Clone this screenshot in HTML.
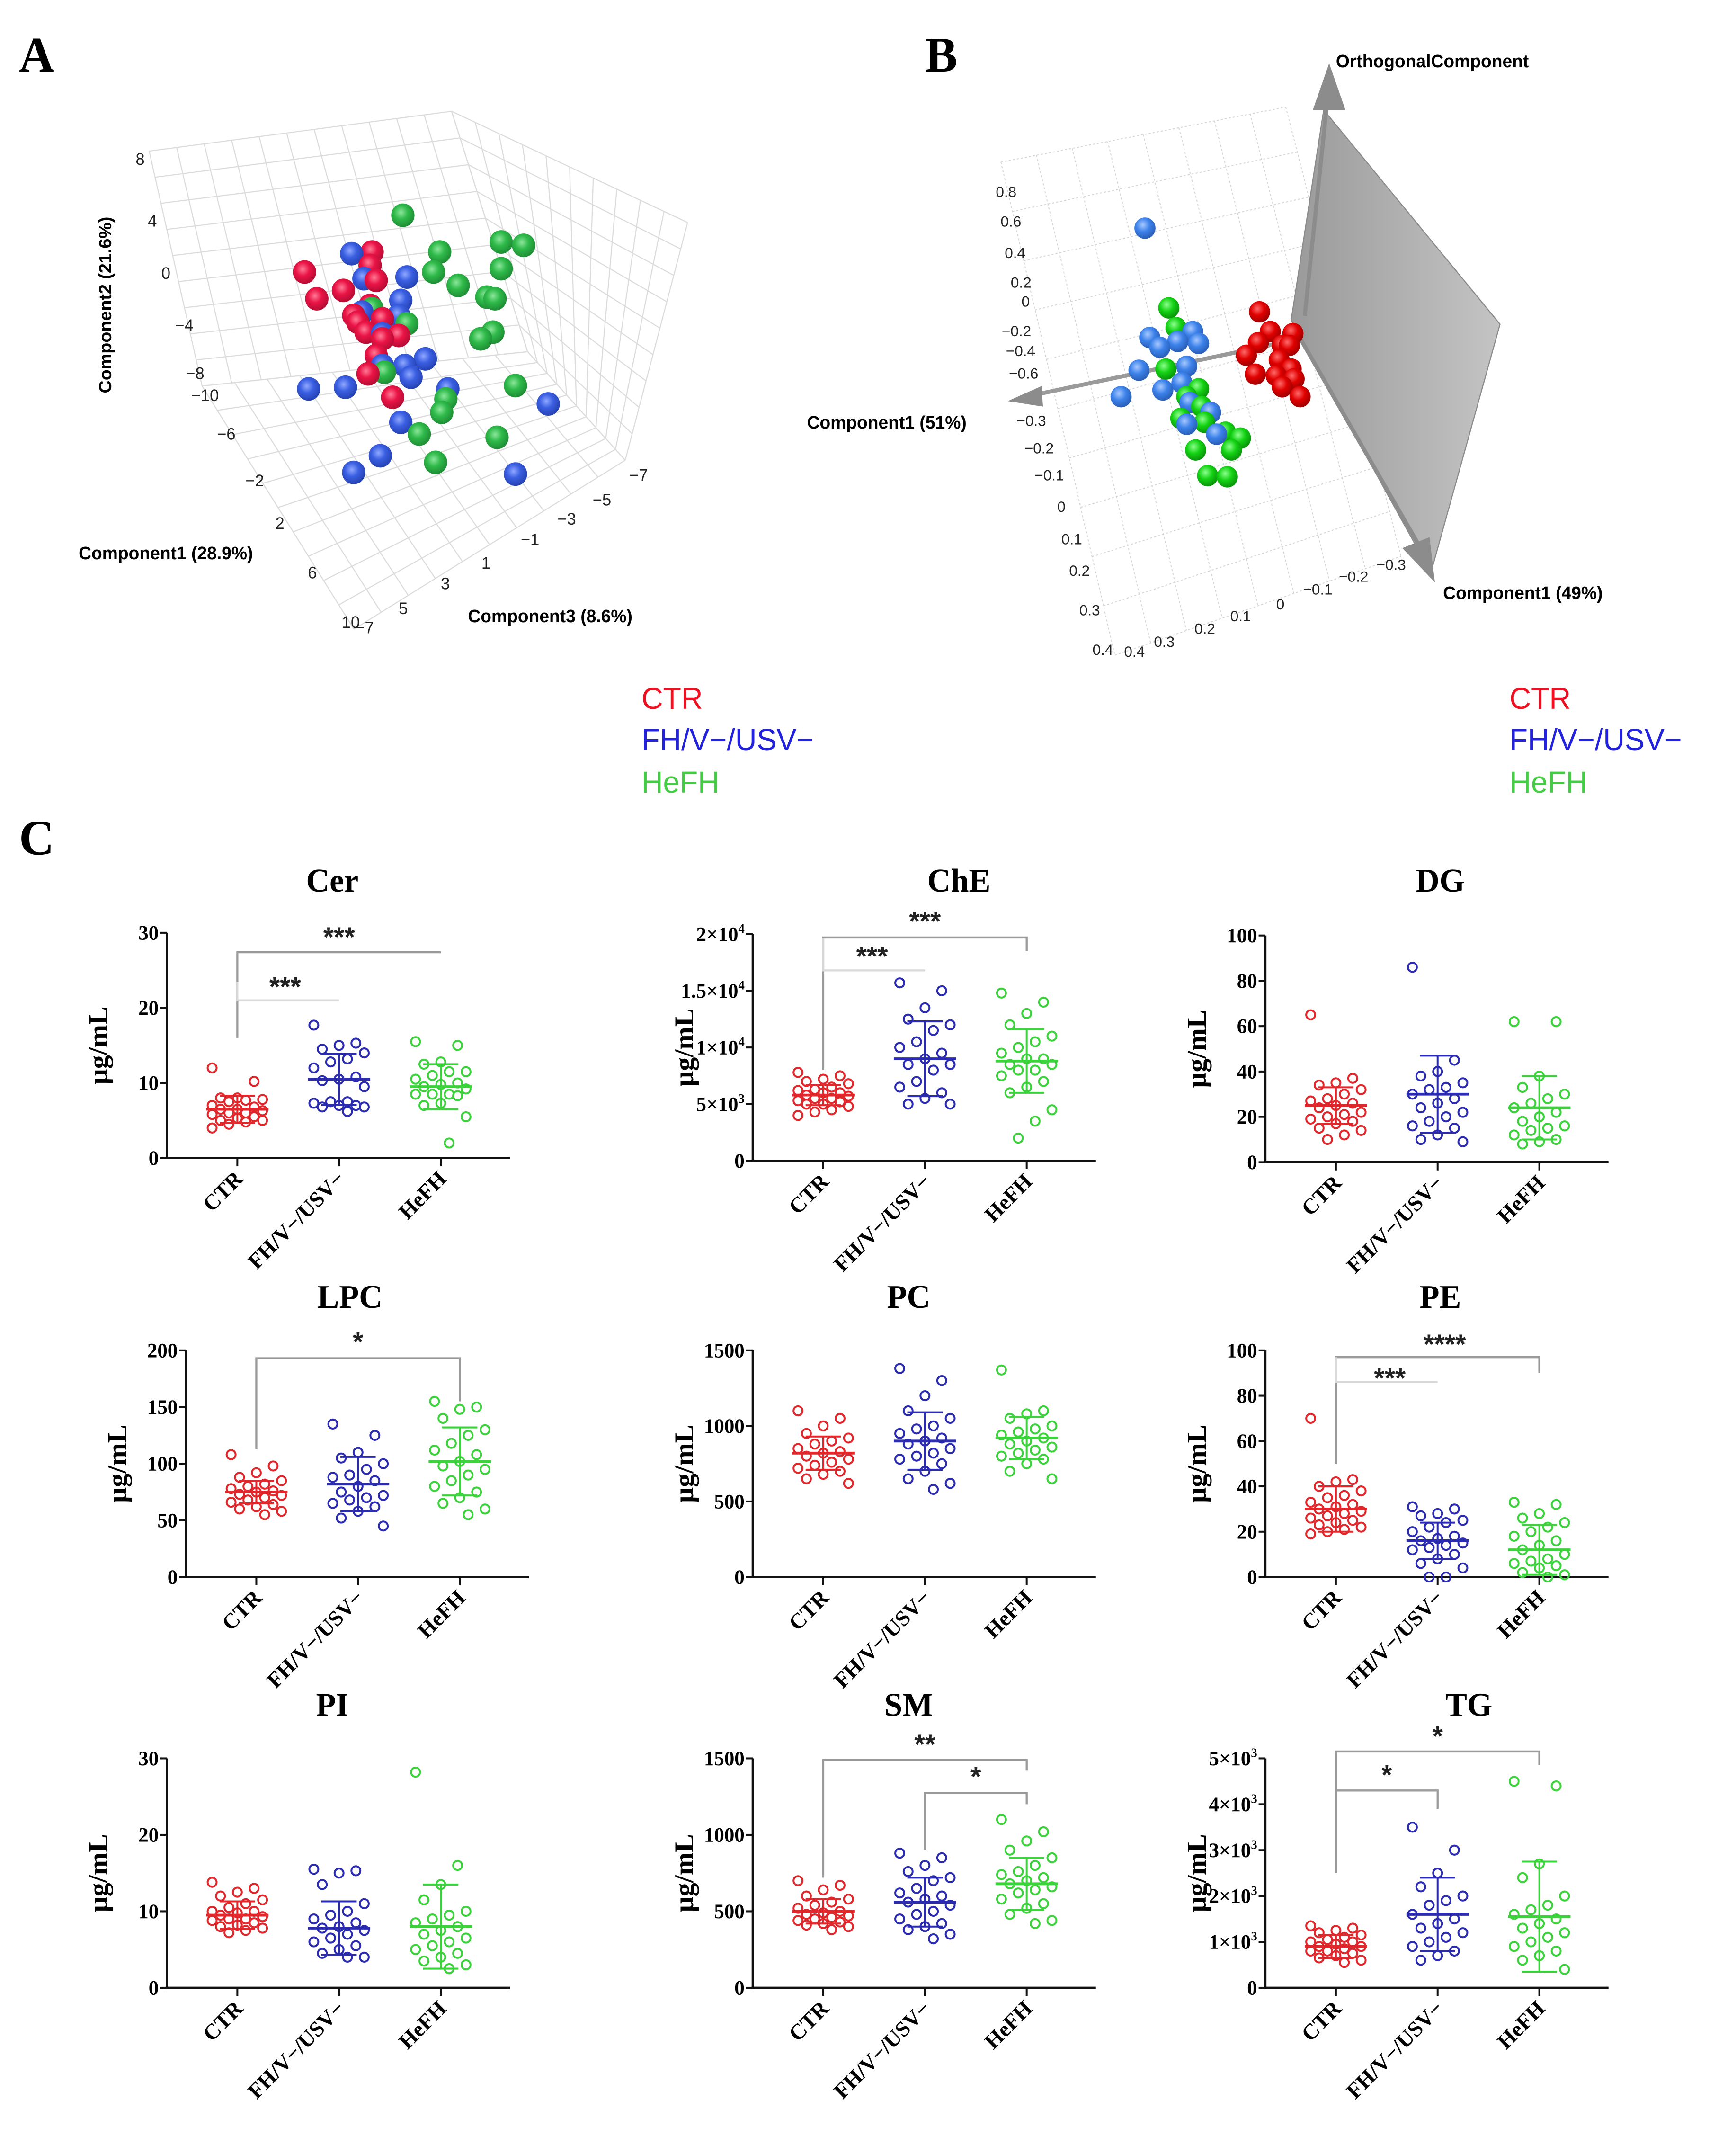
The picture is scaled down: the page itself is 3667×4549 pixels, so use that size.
<!DOCTYPE html>
<html><head><meta charset="utf-8">
<style>
html,body{margin:0;padding:0;background:#fff;}
svg{display:block;}
</style></head>
<body>
<svg id="fig" xmlns="http://www.w3.org/2000/svg" width="3667" height="4549" viewBox="0 0 1280 1568" preserveAspectRatio="none">
<defs>
<radialGradient id="gA-red" cx="0.42" cy="0.38" r="0.65"><stop offset="0" stop-color="#ff7a96"/><stop offset="0.45" stop-color="#ea1446"/><stop offset="1" stop-color="#b00c32"/></radialGradient>
<radialGradient id="gA-blue" cx="0.42" cy="0.38" r="0.65"><stop offset="0" stop-color="#8fa8ff"/><stop offset="0.45" stop-color="#3b5fe2"/><stop offset="1" stop-color="#2440b0"/></radialGradient>
<radialGradient id="gA-green" cx="0.42" cy="0.38" r="0.65"><stop offset="0" stop-color="#8be69a"/><stop offset="0.45" stop-color="#2fba4a"/><stop offset="1" stop-color="#1d8a33"/></radialGradient>
<radialGradient id="gB-red" cx="0.4" cy="0.35" r="0.65"><stop offset="0" stop-color="#ff6a6a"/><stop offset="0.5" stop-color="#e00000"/><stop offset="1" stop-color="#a00000"/></radialGradient>
<radialGradient id="gB-blue" cx="0.4" cy="0.35" r="0.65"><stop offset="0" stop-color="#a6c8ff"/><stop offset="0.5" stop-color="#3c82ea"/><stop offset="1" stop-color="#2a5fb8"/></radialGradient>
<radialGradient id="gB-green" cx="0.4" cy="0.35" r="0.65"><stop offset="0" stop-color="#8dff8d"/><stop offset="0.5" stop-color="#14d214"/><stop offset="1" stop-color="#0a960a"/></radialGradient>
<linearGradient id="planeGrad" x1="0" y1="0" x2="1" y2="0"><stop offset="0" stop-color="#9a9a9a"/><stop offset="1" stop-color="#c4c4c4"/></linearGradient>
</defs>

<text x="14" y="52" font-family="Liberation Serif, serif" font-weight="bold" font-size="36">A</text>
<text x="682" y="52" font-family="Liberation Serif, serif" font-weight="bold" font-size="36">B</text>
<text x="14" y="622" font-family="Liberation Serif, serif" font-weight="bold" font-size="36">C</text>

<g font-family="Liberation Sans, sans-serif" font-size="22">
<text x="473" y="516" fill="#ee1122">CTR</text>
<text x="473" y="546" fill="#2222dd">FH/V−/USV−</text>
<text x="473" y="577" fill="#44cc44">HeFH</text>
</g>
<g font-family="Liberation Sans, sans-serif" font-size="22">
<text x="1113" y="516" fill="#ee1122">CTR</text>
<text x="1113" y="546" fill="#2222dd">FH/V−/USV−</text>
<text x="1113" y="577" fill="#44cc44">HeFH</text>
</g>
<g id="panelA"></g>
<g id="panelB"></g>
<g id="panelC"></g>
</svg>

<script>
// ---------------- Panel C data ----------------
const categories = ['CTR','FH/V−/USV−','HeFH'];

const cerCTR = [12,10.2,8,8,7.8,7.7,7.5,7,6.8,6.5,6.5,6.3,6,6,5.8,5.5,5.3,5,5,4.8,4.5,4];
const cerFH = [17.7,15.3,15,14.5,14,13.2,12.8,12,10.8,10.5,10.3,9.5,7.5,7.5,7.3,7,7,6.8,6.8,6.2];
const cerHeFH = [15.5,15,12.8,12.5,11.5,11.5,11,10.5,10,9.8,9.5,9.2,8.5,8.5,8.5,8.3,7.3,7,5.5,2];
const cerMean = [6.5,10.5,9.5];
const cerSD = [1.8,3.4,3.0];
const cerTicks = [0,10,20,30];
const cerTickLabels = ['0','10','20','30'];

const cheCTR = [7800,7500,7200,7000,6800,6500,6300,6200,6000,6000,5800,5700,5500,5500,5300,5200,5000,5000,4800,4500,4300,4000];
const cheFH = [15700,15000,13500,12500,12000,11500,10500,10000,9500,9000,8500,8500,8000,7000,6500,6000,5500,5000,5000];
const cheHeFH = [14800,14000,13000,12000,11000,10500,10000,9500,9000,9000,8500,8500,8000,8000,7500,7000,6500,6000,4500,3500,2000];
const cheMean = [5800,9000,8800];
const cheSD = [900,3300,2800];
const cheTicks = [0,5000,10000,15000,20000];
const cheTickLabels = ['0','5×10^3','1×10^4','1.5×10^4','2×10^4'];

const dgCTR = [65,37,35,34,32,30,28,27,26,25,24,22,21,20,19,18,17,15,14,12,10];
const dgFH = [86,45,40,38,35,33,32,30,28,26,24,22,20,18,16,15,12,10,9];
const dgHeFH = [62,62,38,33,30,28,26,24,22,20,18,16,15,14,12,10,9,8];
const dgMean = [25,30,24];
const dgSD = [8,17,14];
const dgTicks = [0,20,40,60,80,100];
const dgTickLabels = ['0','20','40','60','80','100'];

const lpcCTR = [108,98,92,88,85,82,80,78,76,75,73,72,70,68,66,64,62,60,58,55];
const lpcFH = [135,125,110,105,100,95,90,88,85,80,75,72,70,68,65,62,58,52,45];
const lpcHeFH = [155,150,148,140,130,125,118,112,108,102,98,95,90,85,80,75,70,65,60,55];
const lpcMean = [75,82,102];
const lpcSD = [10,24,30];
const lpcTicks = [0,50,100,150,200];
const lpcTickLabels = ['0','50','100','150','200'];

const pcCTR = [1100,1050,1000,950,920,900,880,850,830,820,800,780,760,740,720,700,680,650,620];
const pcFH = [1380,1300,1200,1100,1050,1000,980,950,920,900,880,850,820,800,780,750,700,650,620,580];
const pcHeFH = [1370,1100,1080,1050,1000,980,960,940,920,900,880,860,840,820,800,780,750,700,650];
const pcMean = [820,900,920];
const pcSD = [110,190,140];
const pcTicks = [0,500,1000,1500];
const pcTickLabels = ['0','500','1000','1500'];

const peCTR = [70,43,42,40,38,36,35,33,32,31,30,29,28,27,26,25,24,23,22,21,20,19];
const peFH = [31,30,28,27,25,24,22,20,18,17,16,15,14,13,12,10,8,6,4,0,0];
const peHeFH = [33,32,28,26,24,22,20,18,16,14,12,10,8,7,6,5,4,2,1,0];
const peMean = [30,16,12];
const peSD = [10,8,11];
const peTicks = [0,20,40,60,80,100];
const peTickLabels = ['0','20','40','60','80','100'];

const piCTR = [13.8,13,12.5,12,11.5,11,10.5,10,10,9.8,9.5,9.3,9,9,8.8,8.5,8.2,8,7.8,7.5,7.2];
const piFH = [15.5,15.3,15,13.5,11,10,9.5,9,8.5,8,7.8,7.5,7,6.5,6,5.5,5,4.5,4,4];
const piHeFH = [28.2,16,13.5,11.5,10,9.5,9,8.5,8,7.5,7,6.5,6,5.5,5,4.5,4,3.5,3,2.5];
const piMean = [9.5,7.8,8];
const piSD = [1.8,3.5,5.5];
const piTicks = [0,10,20,30];
const piTickLabels = ['0','10','20','30'];

const smCTR = [700,670,640,600,580,560,540,520,500,490,480,470,460,450,440,430,420,410,400,380];
const smFH = [880,850,800,760,720,700,650,620,600,580,560,540,500,480,450,420,400,380,350,320];
const smHeFH = [1100,1020,960,900,850,800,760,740,720,700,680,660,640,620,580,550,520,480,440,420];
const smMean = [500,560,680];
const smSD = [80,160,170];
const smTicks = [0,500,1000,1500];
const smTickLabels = ['0','500','1000','1500'];

const tgCTR = [1350,1300,1250,1200,1150,1100,1050,1000,1000,950,900,900,850,800,800,750,700,650,600,550];
const tgFH = [3500,3000,2500,2200,2000,1900,1800,1600,1500,1400,1300,1200,1100,1000,900,800,700,600];
const tgHeFH = [4500,4400,2700,2400,2000,1800,1700,1600,1500,1400,1300,1200,1100,1000,900,800,700,600,400];
const tgMean = [900,1600,1550];
const tgSD = [250,800,1200];
const tgTicks = [0,1000,2000,3000,4000,5000];
const tgTickLabels = ['0','1×10^3','2×10^3','3×10^3','4×10^3','5×10^3'];

// significance brackets (value units; a,b = category indices)
const cerBrackets = [{a:0,b:2,y:27.4,dl:16,dr:27.4,t:'***',tv:29.8,tx:1},{a:0,b:1,y:21,dl:23.5,dr:21,t:'***',tv:23.2,tx:0.47,faint:true}];
const cheBrackets = [{a:0,b:2,y:19700,dl:8000,dr:18500,t:'***',tv:21400,tx:1},{a:0,b:1,y:16800,dl:19700,dr:16800,t:'***',tv:18300,tx:0.48,faint:true}];
const lpcBrackets = [{a:0,b:2,y:193,dl:113,dr:155,t:'*',tv:210,tx:1}];
const peBrackets = [{a:0,b:2,y:97,dl:50,dr:90,t:'****',tv:104,tx:1.07},{a:0,b:1,y:86,dl:97,dr:86,t:'***',tv:89,tx:0.53,faint:true}];
const smBrackets = [{a:0,b:2,y:1490,dl:720,dr:1420,t:'**',tv:1610,tx:1},{a:1,b:2,y:1275,dl:900,dr:1200,t:'*',tv:1400,tx:1.5}];
const tgBrackets = [{a:0,b:2,y:5150,dl:2500,dr:4850,t:'*',tv:5550,tx:1},{a:0,b:1,y:4300,dl:4300,dr:3900,t:'*',tv:4700,tx:0.5}];
const piBrackets = [];
const pcBrackets = [];
const dgBrackets = [];

// ---------------- Panel A data (projected component coords) ----------------
const aRedU = [570,735,730,745,600,665,730,700,760,720,800,760,745,725,785,690];
const aRedV = [460,400,440,485,540,515,560,610,600,640,650,660,710,765,835,590];
const aBlueU = [685,715,820,805,710,800,760,865,760,815,830,920,580,670,805,1165,755,690,1085];
const aBlueV = [405,480,475,545,580,590,645,720,740,740,775,810,810,805,910,855,1010,1060,1065];
const aGreenU = [810,900,1050,1105,1050,885,945,1015,1035,1030,1000,820,735,765,1085,915,905,850,1040,890];
const aGreenV = [290,400,370,380,450,460,500,535,540,640,660,615,570,760,800,840,880,945,955,1030];

// ---------------- Panel B data ----------------
const bBlueU = [570,578,595,625,650,660,560,640,600,530,632,645,680,690,640];
const bBlueV = [458,735,760,745,720,750,818,808,868,885,850,900,925,980,955];
const bGreenU = [610,622,605,660,640,665,630,670,705,730,715,655,675,708];
const bGreenV = [660,710,815,865,885,910,940,950,975,990,1020,1020,1085,1088];
const bRedU = [762,780,818,800,760,740,795,815,755,790,820,800,830,812];
const bRedV = [670,720,725,755,748,780,792,815,828,832,840,860,885,755];

const NS = 'http://www.w3.org/2000/svg';
function mk(tag, attrs, parent){
  const e = document.createElementNS(NS, tag);
  for (const k in attrs) e.setAttribute(k, attrs[k]);
  parent.appendChild(e);
  return e;
}
function setLabel(t, s){
  if (s.indexOf('^') >= 0){
    const parts = s.split('^');
    t.appendChild(document.createTextNode(parts[0]));
    const sp = document.createElementNS(NS,'tspan');
    sp.setAttribute('font-size','0.62em');
    sp.setAttribute('dy','-6');
    sp.textContent = parts[1];
    t.appendChild(sp);
  } else t.textContent = s;
}

// ---------------- Panel A ----------------
(function(){
  const g = document.getElementById('panelA');
  const mapX = u => 52.4 + u*0.302;
  const mapY = v => 86.2 + v*0.2431;
  const TL=[110,110], BT=[333,81], TR=[507,162], LB=[149,281], BF=[389,256], RF=[461,335], FR=[261,458];
  function lerp(p,q,t){return [p[0]+(q[0]-p[0])*t, p[1]+(q[1]-p[1])*t];}
  function quad(p0,p1,p2,p3,nu,nv,name){
    const gg = mk('g',{stroke:'#dcdcdc','stroke-width':0.8,fill:'none'},g);
    
    
    for(let i=0;i<=nu;i++){
      const a=lerp(p0,p1,i/nu), b=lerp(p3,p2,i/nu);
      const l = mk('line',{x1:a[0],y1:a[1],x2:b[0],y2:b[1]},gg);
      
      
    }
    for(let j=0;j<=nv;j++){
      const a=lerp(p0,p3,j/nv), b=lerp(p1,p2,j/nv);
      const l = mk('line',{x1:a[0],y1:a[1],x2:b[0],y2:b[1]},gg);
      
      
    }
  }
  quad(TL,BT,BF,LB,11,9,'left-wall-grid');
  quad(BT,TR,RF,BF,10,9,'right-wall-grid');
  quad(LB,BF,RF,FR,10,10,'floor-grid');

  const ticks = [['8',100,120],['4',109,165],['0',119,203],['−4',129,241],['−8',137,276],['−10',141,292],['−6',160,320],['−2',181,354],['2',203,385],['6',227,421],['10',252,457],
    ['−7',464,350],['−5',437,368],['−3',411,382],['−1',384,397],['1',355,414],['3',325,429],['5',294,447],['−7',262,461]];
  ticks.forEach(tk=>{
    const t = mk('text',{x:tk[1],y:tk[2],'font-family':'Liberation Sans, sans-serif','font-size':12,fill:'#222'},g);
    
    
    t.textContent = tk[0];
  });
  const l1 = mk('text',{x:0,y:0,transform:'translate(82,222) rotate(-90)','text-anchor':'middle','font-family':'Liberation Sans, sans-serif','font-weight':'bold','font-size':13},g);
  
  
  l1.textContent='Component2 (21.6%)';
  const l2 = mk('text',{x:58,y:407,'font-family':'Liberation Sans, sans-serif','font-weight':'bold','font-size':13},g);
  
  
  l2.textContent='Component1 (28.9%)';
  const l3 = mk('text',{x:345,y:453,'font-family':'Liberation Sans, sans-serif','font-weight':'bold','font-size':13},g);
  
  
  l3.textContent='Component3 (8.6%)';

  const pts = [];
  aRedU.forEach((u,i)=>pts.push([u,aRedV[i],'red']));
  aBlueU.forEach((u,i)=>pts.push([u,aBlueV[i],'blue']));
  aGreenU.forEach((u,i)=>pts.push([u,aGreenV[i],'green']));
  pts.sort((p,q)=>p[1]-q[1]);
  pts.forEach(p=>{
    const c = mk('circle',{cx:mapX(p[0]),cy:mapY(p[1]),r:8.6,fill:'url(#gA-'+p[2]+')'},g);
    
    
  });
})();

// ---------------- Panel B ----------------
(function(){
  const g = document.getElementById('panelB');
  const mapX = u => 593.4 + u*0.440;
  const mapY = v => 34.5 + v*0.2873;
  const gl = mk('g',{stroke:'#d6d6d6','stroke-width':0.7,'stroke-dasharray':'1.5,1.5',fill:'none'},g);
  
  
  const A=[738,118], Bp=[948,78], C=[822,477], D=[1033,405];
  for(let i=0;i<=8;i++){
    const t=i/8;
    const p=[A[0]+(Bp[0]-A[0])*t, A[1]+(Bp[1]-A[1])*t];
    const q=[C[0]+(D[0]-C[0])*t, C[1]+(D[1]-C[1])*t];
    const l = mk('line',{x1:p[0],y1:p[1],x2:q[0],y2:q[1]},gl);
    
    
  }
  for(let j=0;j<=10;j++){
    const t=j/10;
    const p=[A[0]+(C[0]-A[0])*t, A[1]+(C[1]-A[1])*t];
    const q=[Bp[0]+(D[0]-Bp[0])*t, Bp[1]+(D[1]-Bp[1])*t];
    const l = mk('line',{x1:p[0],y1:p[1],x2:q[0],y2:q[1]},gl);
    
    
  }
  const ticksB = [['0.8',320,365],['0.6',328,440],['0.4',335,520],['0.2',345,595],['0',363,643],['−0.2',330,718],['−0.4',337,768],['−0.6',342,825],['−0.3',355,945],['−0.2',368,1015],['−0.1',385,1083],['0',423,1163],['0.1',430,1245],['0.2',443,1325],['0.3',460,1425],['0.4',482,1525],
    ['0.4',535,1530],['0.3',585,1505],['0.2',653,1472],['0.1',713,1440],['0',790,1410],['−0.1',835,1372],['−0.2',895,1340],['−0.3',958,1310]];
  ticksB.forEach(tk=>{
    const t = mk('text',{x:mapX(tk[1]),y:mapY(tk[2])+4,'font-family':'Liberation Sans, sans-serif','font-size':11,fill:'#222'},g);
    
    
    t.textContent = tk[0];
  });
  const plane = mk('polygon',{points:'976,80 1106,236 1055,417 952,233',fill:'url(#planeGrad)',stroke:'#8a8a8a','stroke-width':0.8},g);
  
  
  const ax1 = mk('line',{x1:962,y1:230,x2:979,y2:70,stroke:'#8c8c8c','stroke-width':3},g);
  
  
  const ah1 = mk('polygon',{points:'980,46 968,80 992,80',fill:'#8c8c8c'},g);
  
  
  const ax2 = mk('line',{x1:952,y1:248,x2:765,y2:287,stroke:'#9a9a9a','stroke-width':3},g);
  
  
  const ah2 = mk('polygon',{points:'743,292 768,281 769,296',fill:'#8c8c8c'},g);
  
  
  const ax3 = mk('line',{x1:955,y1:240,x2:1048,y2:400,stroke:'#8c8c8c','stroke-width':3},g);
  
  
  const ah3 = mk('polygon',{points:'1058,424 1034,399 1054,391',fill:'#8c8c8c'},g);
  
  

  const labs = [['OrthogonalComponent',985,49,'orthogonal-axis-title'],['Component1 (51%)',595,312,'component1-51-axis-title'],['Component1 (49%)',1064,436,'component1-49-axis-title']];
  labs.forEach(L=>{
    const t = mk('text',{x:L[1],y:L[2],'font-family':'Liberation Sans, sans-serif','font-weight':'bold','font-size':13},g);
    
    
    t.textContent = L[0];
  });

  const pts = [];
  bBlueU.forEach((u,i)=>pts.push([u,bBlueV[i],'blue']));
  bGreenU.forEach((u,i)=>pts.push([u,bGreenV[i],'green']));
  bRedU.forEach((u,i)=>pts.push([u,bRedV[i],'red']));
  pts.sort((p,q)=>p[1]-q[1]);
  pts.forEach(p=>{
    const c = mk('circle',{cx:mapX(p[0]),cy:mapY(p[1]),r:7.8,fill:'url(#gB-'+p[2]+')'},g);
    
    
  });
})();

// ---------------- Panel C ----------------
const panels = [
  {key:'cer',title:'Cer',data:[cerCTR,cerFH,cerHeFH],mean:cerMean,sd:cerSD,ticks:cerTicks,labels:cerTickLabels,br:cerBrackets},
  {key:'che',title:'ChE',data:[cheCTR,cheFH,cheHeFH],mean:cheMean,sd:cheSD,ticks:cheTicks,labels:cheTickLabels,br:cheBrackets},
  {key:'dg',title:'DG',data:[dgCTR,dgFH,dgHeFH],mean:dgMean,sd:dgSD,ticks:dgTicks,labels:dgTickLabels,br:dgBrackets},
  {key:'lpc',title:'LPC',data:[lpcCTR,lpcFH,lpcHeFH],mean:lpcMean,sd:lpcSD,ticks:lpcTicks,labels:lpcTickLabels,br:lpcBrackets},
  {key:'pc',title:'PC',data:[pcCTR,pcFH,pcHeFH],mean:pcMean,sd:pcSD,ticks:pcTicks,labels:pcTickLabels,br:pcBrackets},
  {key:'pe',title:'PE',data:[peCTR,peFH,peHeFH],mean:peMean,sd:peSD,ticks:peTicks,labels:peTickLabels,br:peBrackets},
  {key:'pi',title:'PI',data:[piCTR,piFH,piHeFH],mean:piMean,sd:piSD,ticks:piTicks,labels:piTickLabels,br:piBrackets},
  {key:'sm',title:'SM',data:[smCTR,smFH,smHeFH],mean:smMean,sd:smSD,ticks:smTicks,labels:smTickLabels,br:smBrackets},
  {key:'tg',title:'TG',data:[tgCTR,tgFH,tgHeFH],mean:tgMean,sd:tgSD,ticks:tgTicks,labels:tgTickLabels,br:tgBrackets}
];
const layout = [
  {ax:123,y0:843,yt:679,tx:245,ty:649},{ax:555,y0:845,yt:680,tx:707,ty:649},{ax:933,y0:846,yt:681,tx:1062,ty:649},
  {ax:137,y0:1148,yt:983,tx:258,ty:952},{ax:555,y0:1148,yt:983,tx:670,ty:952},{ax:933,y0:1148,yt:983,tx:1062,ty:952},
  {ax:123,y0:1447,yt:1280,tx:245,ty:1249},{ax:555,y0:1447,yt:1280,tx:670,ty:1249},{ax:933,y0:1447,yt:1280,tx:1083,ty:1249}
];
const colors = ['#e0282c','#2b2bb0','#3cd23c'];
const serif = 'Liberation Serif, serif';

(function(){
  const root = document.getElementById('panelC');
  panels.forEach((P,pi)=>{
    const L = layout[pi];
    const g = mk('g',{},root);
    
    
    const ymax = P.ticks[P.ticks.length-1];
    const yS = v => L.y0 - v/ymax*(L.y0-L.yt);
    const xS = i => L.ax + 52 + i*75;
    const xEnd = L.ax + 253;

    const title = mk('text',{x:L.tx,y:L.ty,'text-anchor':'middle','font-family':serif,'font-weight':'bold','font-size':24},g);
    
    
    title.textContent = P.title;

    const yl = mk('text',{x:0,y:0,transform:'translate('+(L.ax-44)+','+((L.y0+L.yt)/2)+') rotate(-90)','text-anchor':'middle','font-family':serif,'font-weight':'bold','font-size':20},g);
    
    
    yl.textContent = 'μg/mL';

    const yax = mk('line',{x1:L.ax,y1:L.yt,x2:L.ax,y2:L.y0,stroke:'#111','stroke-width':1.6},g);
    
    
    const xax = mk('line',{x1:L.ax-1,y1:L.y0,x2:xEnd,y2:L.y0,stroke:'#111','stroke-width':1.6},g);
    
    

    P.ticks.forEach((v,ti)=>{
      const tk = mk('line',{x1:L.ax-5,y1:yS(v),x2:L.ax,y2:yS(v),stroke:'#111','stroke-width':1.4},g);
      
      
      const tl = mk('text',{x:L.ax-6,y:yS(v)+5,'text-anchor':'end','font-family':serif,'font-weight':'bold','font-size':15},g);
      
      
      setLabel(tl, P.labels[ti]);
    });

    categories.forEach((c,ci)=>{
      const tk = mk('line',{x1:xS(ci),y1:L.y0,x2:xS(ci),y2:L.y0+6,stroke:'#111','stroke-width':1.4},g);
      
      
      const tl = mk('text',{x:0,y:0,transform:'translate('+(xS(ci)+5)+','+(L.y0+16)+') rotate(-45)','text-anchor':'end','font-family':serif,'font-weight':'bold','font-size':16},g);
      
      
      tl.textContent = c;
    });

    P.br.forEach(b=>{
      const col = b.faint ? '#d8d8d8' : '#9a9a9a';
      const pth = 'M'+xS(b.a)+','+yS(b.dl)+' L'+xS(b.a)+','+yS(b.y)+' L'+xS(b.b)+','+yS(b.y)+' L'+xS(b.b)+','+yS(b.dr);
      const p = mk('path',{d:pth,fill:'none',stroke:col,'stroke-width':1.5},g);
      
      
      const t = mk('text',{x:xS(b.tx),y:yS(b.tv)+9,'text-anchor':'middle','font-family':'Liberation Sans, sans-serif','font-weight':'bold','font-size':20,fill:'#222'},g);
      
      
      t.textContent = b.t;
    });

    P.data.forEach((arr,ci)=>{
      const gg = mk('g',{stroke:colors[ci],fill:'none','stroke-width':1.4},g);
      
      
      arr.forEach((v,i)=>{
        const off = (((i*5)%7)-3)*6.2;
        const c = mk('circle',{cx:xS(ci)+off,cy:yS(v),r:3.3},gg);
        
        
      });
      const m = P.mean[ci], s = P.sd[ci];
      const ml = mk('line',{x1:xS(ci)-23,y1:yS(m),x2:xS(ci)+23,y2:yS(m),'stroke-width':2},gg);
      
      
      const sv = mk('line',{x1:xS(ci),y1:yS(Math.max(0,m-s)),x2:xS(ci),y2:yS(m+s),'stroke-width':1.4},gg);
      
      
      const su = mk('line',{x1:xS(ci)-13,y1:yS(m+s),x2:xS(ci)+13,y2:yS(m+s),'stroke-width':1.4},gg);
      
      
      const sl = mk('line',{x1:xS(ci)-13,y1:yS(Math.max(0,m-s)),x2:xS(ci)+13,y2:yS(Math.max(0,m-s)),'stroke-width':1.4},gg);
      
      
    });
  });
})();
</script>
</body></html>
